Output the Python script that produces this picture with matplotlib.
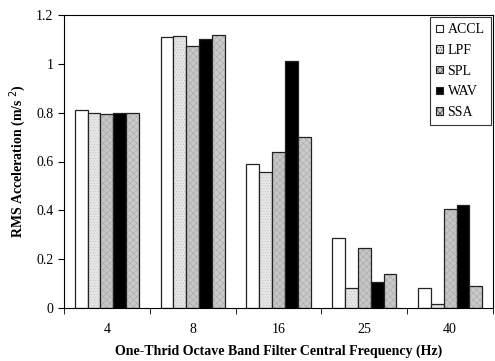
import matplotlib
matplotlib.use("Agg")
import matplotlib.pyplot as plt
from matplotlib.patches import Patch
import numpy as np

plt.rcParams['font.family'] = ['Liberation Serif', 'DejaVu Serif']
plt.rcParams['hatch.linewidth'] = 0.4

categories = ['4', '8', '16', '25', '40']
series = ['ACCL', 'LPF', 'SPL', 'WAV', 'SSA']
accl = [0.81, 1.11, 0.59, 0.285, 0.08]
lpf = [0.80, 1.115, 0.555, 0.08, 0.015]
spl = [0.795, 1.075, 0.64, 0.245, 0.405]
wav = [0.80, 1.10, 1.01, 0.105, 0.42]
ssa = [0.80, 1.12, 0.70, 0.14, 0.09]
yticks = [0, 0.2, 0.4, 0.6, 0.8, 1.0, 1.2]
ytick_labels = ['0', '0.2', '0.4', '0.6', '0.8', '1', '1.2']

values = [accl, lpf, spl, wav, ssa]
styles = [
    dict(facecolor='white', hatch=None, edgecolor='black'),
    dict(facecolor='#e6e6e6', hatch='......', edgecolor='#c0c0c0'),
    dict(facecolor='#c6c6c6', hatch='xxxxx', edgecolor='#a8a8a8'),
    dict(facecolor='black', hatch=None, edgecolor='black'),
    dict(facecolor='#cacaca', hatch='xxxxx', edgecolor='#aaaaaa'),
]

fig = plt.figure(figsize=(4.95, 3.61), dpi=100)
ax = fig.add_axes([64/495, 1 - 308/361, (493-64)/495, (308-15)/361])

x = np.arange(len(categories))
w = 0.15
handles = []
for i, (name, vals, st) in enumerate(zip(series, values, styles)):
    ax.bar(x + (i - 2) * w, vals, w, color=st['facecolor'],
           hatch=st['hatch'], edgecolor=st['edgecolor'], linewidth=0)
    ax.bar(x + (i - 2) * w, vals, w, facecolor='none', edgecolor='#222222', linewidth=0.9)
    handles.append(Patch(facecolor=st['facecolor'], hatch=st['hatch'],
                         edgecolor='#222222', linewidth=0.8, label=name))

ax.set_xlim(-0.5, len(categories) - 0.5)
ax.set_ylim(0, 1.2)
ax.set_yticks(yticks)
ax.set_yticklabels(ytick_labels, fontsize=10)
ax.set_xticks(x)
ax.set_xticklabels(categories, fontsize=10)
ax.set_xticks(np.arange(len(categories) + 1) - 0.5, minor=True)
ax.tick_params(axis='x', which='major', length=0, pad=11)
ax.tick_params(axis='x', which='minor', length=4, direction='out')
ax.tick_params(axis='y', length=4, direction='out')
for s in ax.spines.values():
    s.set_linewidth(0.8)

ax.set_ylabel('RMS Acceleration (m/s$^{\\ 2}$)', fontsize=10, fontweight='bold', labelpad=6)
ax.set_xlabel('One-Thrid Octave Band Filter Central Frequency (Hz)', fontsize=10, fontweight='bold', labelpad=6)

leg = ax.legend(handles=handles, loc='upper right', fontsize=10, frameon=True, fancybox=False,
                edgecolor='black', handlelength=0.45, handleheight=0.45,
                labelspacing=0.55, handletextpad=0.35, borderpad=0.45,
                bbox_to_anchor=(0.995, 0.993), borderaxespad=0)
leg.get_frame().set_linewidth(0.8)

fig.savefig('out.png', dpi=100)
